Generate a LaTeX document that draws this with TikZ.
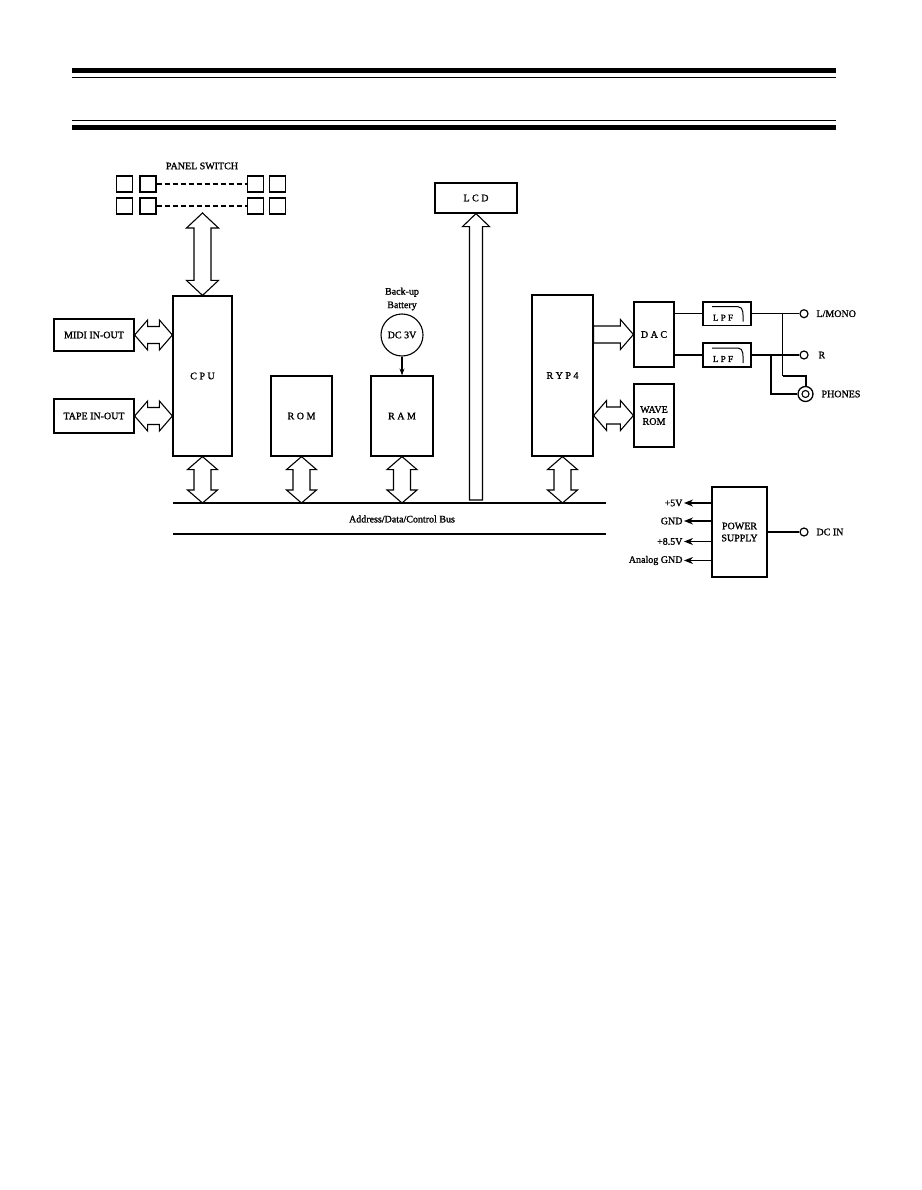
\documentclass[tikz,border=0pt]{standalone}
\usepackage{fontspec}
\setmainfont{Liberation Serif}[FakeBold=1.3]
\usetikzlibrary{arrows.meta,calc,positioning}

% hollow fat arrows: head length, head and shaft half widths
\newcommand{\arrhl}{13pt}
\newcommand{\arrhw}{15pt}
\newcommand{\arrsw}{8.5pt}
% both ends
\newcommand{\fatdbl}[2]{%
  \draw[fat] (#1) -- ($(#1)!\arrhl!(#2)!\arrhw!90:(#2)$) -- ($(#1)!\arrhl!(#2)!\arrsw!90:(#2)$)
    -- ($(#2)!\arrhl!(#1)!\arrsw!-90:(#1)$) -- ($(#2)!\arrhl!(#1)!\arrhw!-90:(#1)$) -- (#2)
    -- ($(#2)!\arrhl!(#1)!\arrhw!90:(#1)$) -- ($(#2)!\arrhl!(#1)!\arrsw!90:(#1)$)
    -- ($(#1)!\arrhl!(#2)!\arrsw!-90:(#2)$) -- ($(#1)!\arrhl!(#2)!\arrhw!-90:(#2)$) -- cycle;}
% head at #2 only
\newcommand{\fatone}[2]{%
  \draw[fat] ($(#1)!\arrsw!90:(#2)$) -- ($(#2)!\arrhl!(#1)!\arrsw!-90:(#1)$)
    -- ($(#2)!\arrhl!(#1)!\arrhw!-90:(#1)$) -- (#2)
    -- ($(#2)!\arrhl!(#1)!\arrhw!90:(#1)$) -- ($(#2)!\arrhl!(#1)!\arrsw!90:(#1)$)
    -- ($(#1)!\arrsw!-90:(#2)$) -- cycle;}

\begin{document}
\begin{tikzpicture}[x=1pt, y=-1pt, line width=1.1pt,
  font=\fontsize{10}{12}\selectfont,
  blk/.style={draw, line width=1.2pt, inner sep=0pt, align=center},
  key/.style={draw, line width=1.1pt, minimum size=16, inner sep=0pt},
  jack/.style={draw, circle, fill=white, minimum size=8, inner sep=0pt, line width=1.2pt},
  fat/.style={draw, line width=1.1pt, fill=white, line join=miter},
  pwr/.style={-{Stealth[length=9pt,width=7pt]}, line width=1.1pt}]
\useasboundingbox (0,0) rectangle (921,1190);
% header rules
\fill (72,68) rectangle (836,73);
\draw[line width=1.3pt] (72,77.5) -- (836,77.5);
\draw[line width=1.3pt] (72,120.5) -- (836,120.5);
\fill (72,125) rectangle (836,130);

% panel switch
\node (panel) at (202,166) {PANEL SWITCH};
\foreach \r/\y in {a/184,b/206} {
  \foreach \i/\x in {1/124.5,2/148,3/255.5,4/277.5}
    \node[key] (k\r\i) at (\x,\y) {};
  \draw[line width=1.2pt, dash pattern=on 5pt off 3pt] (k\r2) -- (k\r3);
}

% main blocks
\node[blk, minimum width=59, minimum height=160] (cpu) at (202.5,376) {C P U};
\node[blk, minimum width=80, minimum height=32] (midi) at (94,335) {MIDI IN-OUT};
\node[blk, minimum width=80, minimum height=34] (tape) at (94,416) {TAPE IN-OUT};
\node[blk, minimum width=61, minimum height=80] (rom) at (301.5,416) {R O M};
\node[blk, minimum width=62, minimum height=80] (ram) at (402,416) {R A M};
\node[blk, minimum width=82, minimum height=30] (lcd) at (476,198) {L C D};
\node[blk, minimum width=61, minimum height=161] (ryp) at (562.5,375.5) {R Y P 4};
\node[blk, minimum width=40, minimum height=65] (dac) at (654,334.5) {D A C};
\node[blk, minimum width=40, minimum height=63] (wave) at (654,415.5) {WAVE\\ROM};

% back-up battery
\node[align=center, font=\fontsize{10}{13.5}\selectfont] (bkup) at (402,299) {Back-up\\Battery};
\node[draw, circle, minimum size=42, inner sep=0pt, line width=1.1pt] (bat) at (402,335) {DC 3V};
\draw[-{Stealth[length=7pt,width=5pt]}] (bat) -- (ram);

% bus
\coordinate (busl) at (173,503);
\coordinate (busr) at (606,503);
\coordinate (busl2) at (173,534);
\coordinate (busr2) at (606,534);
\draw[line width=1.3pt] (busl) -- (busr);
\draw[line width=1.3pt] (busl2) -- (busr2);
\node (buslbl) at (402,519) {Address/Data/Control Bus};

% fat arrows
\coordinate (kbot) at (202.5,213);
{\renewcommand{\arrhw}{16pt}\renewcommand{\arrhl}{15pt}\fatdbl{cpu.north}{kbot}}
\foreach \n in {cpu,rom,ram,ryp} {
  \coordinate (\n-b) at (\n.south |- busl);
  \fatdbl{\n.south}{\n-b}
}
\coordinate (midi-c) at (midi.east -| cpu.west);
\coordinate (tape-c) at (tape.east -| cpu.west);
\fatdbl{midi.east}{midi-c}
\fatdbl{tape.east}{tape-c}
\coordinate (lcdb) at (476,500);
{\renewcommand{\arrhw}{13.5pt}\renewcommand{\arrsw}{6.5pt}\fatone{lcdb}{lcd.south}}
\coordinate (ryp-d) at (dac.west -| ryp.east);
\fatone{ryp-d}{dac.west}
\coordinate (ryp-w) at (wave.west -| ryp.east);
\fatdbl{wave.west}{ryp-w}

% filters
\node[blk, minimum width=48, minimum height=23.5] (lpf1) at (727,313.7) {};
\node[blk, minimum width=48, minimum height=24] (lpf2) at (727,355) {};
\foreach \f in {lpf1,lpf2} {
  \node[font=\fontsize{9}{10}\selectfont, inner sep=0pt] (\f t) at ($(\f.center)+(-4,4)$) {L P F};
  \draw[line width=1pt] ($(\f.center)+(-15,-7)$) -- ($(\f.center)+(11,-7)$)
    to[out=0,in=90] ($(\f.center)+(16,8)$);
}
\draw (lpf1.west -| dac.east) -- (lpf1.west);
\draw (lpf2.west -| dac.east) -- (lpf2.west);

% outputs
\node[jack] (lj) at (804,313.7) {};
\node[right=4pt of lj] (ljl) {L/MONO};
\node[jack] (rj) at (804,355) {};
\node[right=6pt of rj] (rjl) {R};
\draw (lpf1.east) -- (lj);
\draw (lpf2.east) -- (rj);
\node[draw, circle, minimum size=15, inner sep=0pt, line width=1.3pt] (ph) at (805.5,394) {};
\draw (ph.center) circle (3.5);
\node[right=4pt of ph] (phl) {PHONES};
\coordinate (tap1) at (782.5,313.7);
\coordinate (bend) at (805.5,376);
\coordinate (tap2) at (771,355);
\draw (tap1) -- (tap1 |- bend);
\draw[line width=2pt] (tap1 |- bend) -- (bend) -- (ph.north);
\draw (tap2) |- (ph.west);

% power supply
\node[blk, minimum width=55, minimum height=90] (psu) at (739.5,532) {POWER\\SUPPLY};
\foreach \t/\y/\nm in {+5V/503/p1, GND/521/p2, +8.5V/541.5/p3, Analog GND/560.5/p4} {
  \node[anchor=east, inner sep=1pt] (\nm) at (684,\y) {\t};
  \draw[pwr] (\nm.east -| psu.west) -- (\nm.east);
}
\node[jack] (dcj) at (804,532) {};
\node[right=4pt of dcj] (dcl) {DC IN};
\draw (psu.east) -- (dcj);
\end{tikzpicture}
\end{document}
